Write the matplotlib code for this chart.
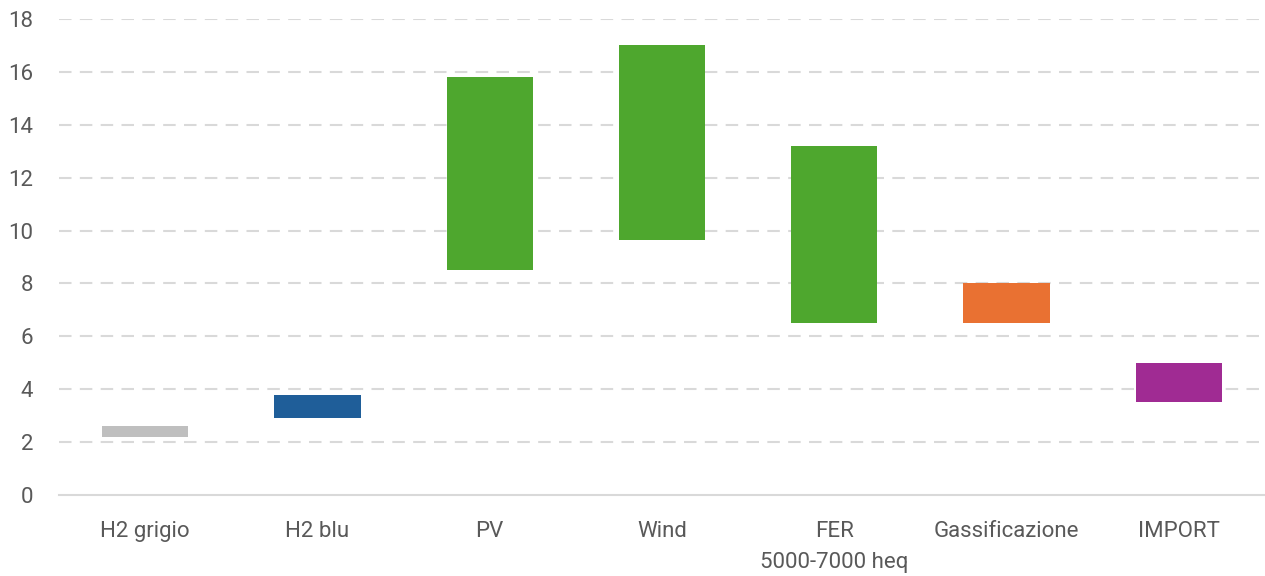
import matplotlib
matplotlib.use("Agg")
import matplotlib.pyplot as plt

categories = ["H2 grigio", "H2 blu", "PV", "Wind", "FER\n5000-7000 heq", "Gassificazione", "IMPORT"]
low_values = [2.2, 2.9, 8.5, 9.65, 6.5, 6.5, 3.5]
high_values = [2.6, 3.8, 15.8, 17.0, 13.2, 8.0, 5.0]
bar_colors = ["#BFBFBF", "#1F5E99", "#4EA72E", "#4EA72E", "#4EA72E", "#E97132", "#A02B93"]
y_ticks = [0, 2, 4, 6, 8, 10, 12, 14, 16, 18]

plt.rcParams["font.family"] = ["Roboto", "DejaVu Sans"]
text_color = "#595959"

fig = plt.figure(figsize=(12.65, 5.76), dpi=100)
ax = fig.add_axes([59 / 1265, 1 - 495 / 576, 1 - 59 / 1265, (495 - 19) / 576])

x = range(len(categories))
heights = [h - l for l, h in zip(low_values, high_values)]
ax.bar(x, heights, bottom=low_values, width=0.5, color=bar_colors, zorder=3)

ax.set_xlim(-0.5, len(categories) - 0.5)
ax.set_ylim(0, 18)
ax.set_yticks(y_ticks)
ax.set_xticks(list(x))
ax.set_xticklabels(categories, linespacing=1.6)

for y in y_ticks[1:]:
    ax.axhline(y, color="#D9D9D9", lw=1.5, ls=(0, (6, 4)), zorder=1)

for side in ("top", "right", "left"):
    ax.spines[side].set_visible(False)
ax.spines["bottom"].set_color("#D9D9D9")
ax.spines["bottom"].set_linewidth(1.5)

ax.tick_params(axis="both", length=0, labelsize=16, colors=text_color)
ax.tick_params(axis="y", pad=18.5)
ax.tick_params(axis="x", pad=19)

fig.savefig("out.png", dpi=100)
